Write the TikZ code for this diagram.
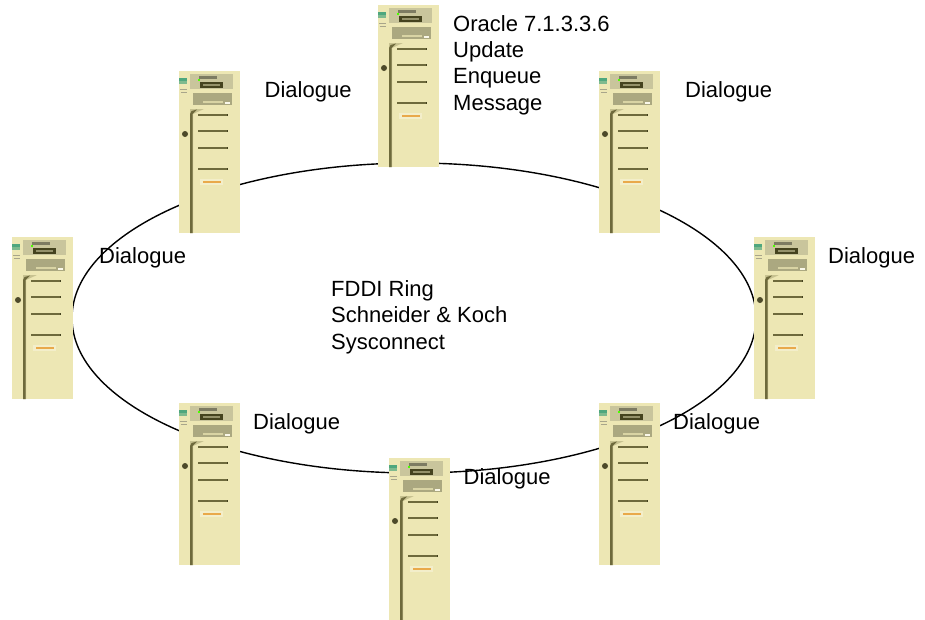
\documentclass[tikz,border=0pt]{standalone}
\usepackage{fontspec}
\setmainfont{Liberation Sans}
\usetikzlibrary{shapes.geometric}
\definecolor{caseC}{HTML}{EDE7B4}
\definecolor{panelC}{HTML}{C9C59C}
\definecolor{driveC}{HTML}{ABA880}
\definecolor{slotC}{HTML}{45431F}
\definecolor{doorC}{HTML}{6E6A3C}
\definecolor{greenC}{HTML}{4FA77E}
\definecolor{badgeC}{HTML}{E9A94A}
\tikzset{
  x=1pt,y=-1pt,
  lbl/.style={font=\fontsize{22}{26.4}\selectfont,anchor=west,inner sep=0pt,align=left,text=black},
  ring/.style={draw=black,line width=1.4pt,ellipse,minimum width=684pt,minimum height=310pt,inner sep=0pt},
  pics/server/.style={code={
    \fill[caseC] (0,0) rectangle (61,162);
    \fill[greenC] (0,7) rectangle (8,9.5);
    \fill[greenC!70!caseC] (0,9.5) rectangle (8,12.5);
    \draw[doorC!60,line width=.9pt] (1,18) -- (8,18);
    \draw[doorC!60,line width=.9pt] (1.5,21) -- (7.5,21);
    \fill[panelC] (11,3) rectangle (54,18);
    \fill[slotC] (21,11) rectangle (44,17);
    \fill[panelC!60!slotC] (24,13.2) rectangle (41,14.8);
    \fill[slotC!70] (20,5) rectangle (38,7.5);
    \fill[green!70!yellow] (19,8) rectangle (21,10);
    \fill[driveC] (14,22) rectangle (53,34);
    \fill[caseC!70!driveC] (24,30) rectangle (44,32);
    \fill[white!70!caseC] (46,31) rectangle (51,33);
    \fill[doorC!30!caseC] (11,38) -- (25,38) -- (14,43) -- (14,162) -- (11,162) -- cycle;
    \fill[doorC] (11,43) -- (12.5,40) -- (18,38.5) -- (13.5,43) -- (13.5,162) -- (11,162) -- cycle;
    \fill[doorC!70!black] (6,63) circle (3);
    \foreach \yy in {44,60,77,98} {
      \draw[doorC,line width=1.1pt] (19,\yy) -- (49,\yy);
      \fill[slotC] (48,\yy-1) rectangle (49,\yy+1);
    }
    \fill[caseC!70!white] (21,108) rectangle (44,114);
    \draw[badgeC,line width=1.8pt] (24,111) -- (42,111);
  }}
}
\begin{document}
\begin{tikzpicture}
\useasboundingbox (0,0) rectangle (925,619);
\node[ring] (ring) at (414,318) {};
\foreach \nm/\px/\py in {sa/179/71,sb/378/5,sc/599/71,sd/754/237,se/599/403,sf/389/458,sg/179/403,sh/12/237}
  \pic (\nm) at (\px,\py) {server};
\node[lbl] (la) at (264.5,91.5) {Dialogue};
\node[lbl] (lb) at (453,65) {Oracle 7.1.3.3.6\\Update\\Enqueue\\Message};
\node[lbl] (lc) at (685,91.5) {Dialogue};
\node[lbl] (ld) at (828,257.5) {Dialogue};
\node[lbl] (le) at (673,423.5) {Dialogue};
\node[lbl] (lf) at (463.5,478.5) {Dialogue};
\node[lbl] (lg) at (253,423.5) {Dialogue};
\node[lbl] (lh) at (99,257.5) {Dialogue};
\node[lbl] (lr) at (331,317) {FDDI Ring\\Schneider \& Koch\\Sysconnect};
\end{tikzpicture}
\end{document}
